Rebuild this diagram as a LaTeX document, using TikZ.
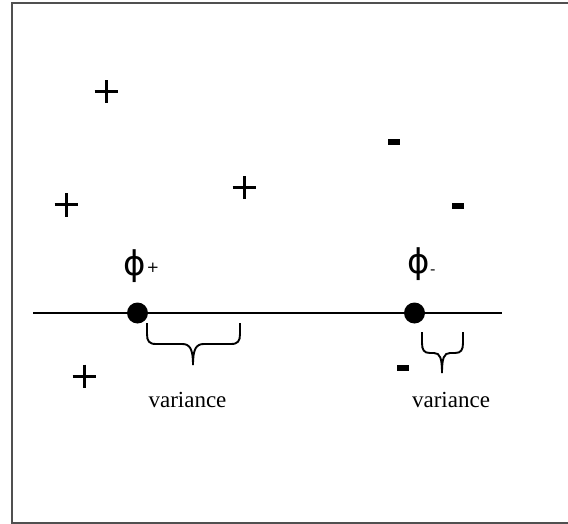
\documentclass[tikz,border=0pt]{standalone}
\usepackage{fontspec}
\setmainfont{Liberation Serif}
\newfontfamily\dv{DejaVu Sans}
\definecolor{framegray}{RGB}{80,80,80}
\newcommand{\subsign}[1]{{\fontsize{15}{15}\selectfont #1}}
\begin{document}
\begin{tikzpicture}[x=1pt,y=-1pt,
  plussign/.style={line width=3pt},
  minussign/.style={fill=black},
  dot/.style={circle,fill=black,inner sep=0pt,minimum size=21pt},
  bracestyle/.style={line width=1.9pt},
  vartext/.style={font=\fontsize{23}{25}\selectfont,anchor=base,inner sep=0pt},
  phitext/.style={font=\dv\fontsize{34}{36}\selectfont,inner sep=0pt,anchor=west}]
\useasboundingbox (0,0) rectangle (568,524);
% frame
\draw[framegray,line width=2pt] (568,3) -- (12,3) -- (12,522.5) -- (568,522.5);
% axis
\coordinate (L) at (33,313);
\coordinate (R) at (502,313);
\draw[line width=1.7pt] (L) -- (R);
\node[dot] (dp) at (137.5,313) {};
\node[dot] (dm) at (414.5,313) {};
% phi labels
\node[phitext] (phip) at (123.5,266) {ϕ\kern0.5pt\raisebox{3pt}{\subsign{+}}};
\node[phitext] (phim) at (407,264) {ϕ\kern0.5pt\raisebox{-1pt}{\subsign{-}}};
% plus signs
\foreach \px/\py in {106/92, 66/205, 244/188, 84/376}{
  \draw[plussign] (\px-11.5,\py) -- (\px+11.5,\py);
  \draw[plussign] (\px,\py-11.5) -- (\px,\py+11.5);
}
% minus signs
\foreach \mx/\my in {394/142, 458/206, 403/368}{
  \fill[minussign] (\mx-6,\my-2.7) rectangle (\mx+6,\my+2.7);
}
% brace 1
\draw[bracestyle] (147,323) -- (147,334) .. controls (147,341) and (149,344) .. (156,344)
  -- (182,344) .. controls (190,344) and (193,349) .. (193,365);
\draw[bracestyle] (240,323) -- (240,334) .. controls (240,341) and (238,344) .. (231,344)
  -- (204,344) .. controls (196,344) and (193,349) .. (193,365);
% brace 2
\draw[bracestyle] (422,332) -- (422,343) .. controls (422,350) and (424,353) .. (430,353)
  -- (434,353) .. controls (440,353) and (442,358) .. (442,373);
\draw[bracestyle] (463,332) -- (463,343) .. controls (463,350) and (461,353) .. (455,353)
  -- (450,353) .. controls (444,353) and (442,358) .. (442,373);
% variance labels
\node[vartext] (v1) at (187.5,407) {variance};
\node[vartext] (v2) at (451,407) {variance};
\end{tikzpicture}
\end{document}
